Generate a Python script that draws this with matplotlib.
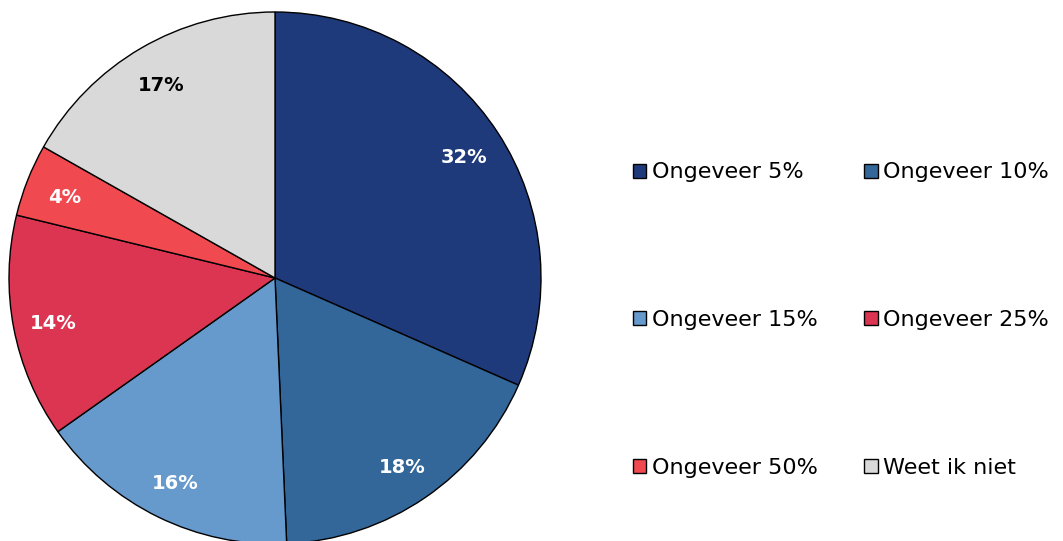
import matplotlib.pyplot as plt
from matplotlib.patches import Patch
import numpy as np

# 数据
labels = ["Ongeveer 5%", "Ongeveer 10%", "Ongeveer 15%", "Ongeveer 25%", "Ongeveer 50%", "Weet ik niet"]
values = [31.6, 17.7, 15.9, 13.6, 4.4, 16.8]
pct_text = ["32%", "18%", "16%", "14%", "4%", "17%"]
colors = ["#1F3A7B", "#336699", "#6699CC", "#DC3551", "#F04A50", "#D9D9D9"]
text_colors = ["white", "white", "white", "white", "white", "black"]

plt.rcParams['font.family'] = ['DejaVu Sans']

W, H = 1063, 541
fig = plt.figure(figsize=(W / 100, H / 100), dpi=100)

cx, cy, r = 275, 263, 266
ax = fig.add_axes([(cx - r) / W, (cy - r) / H, 2 * r / W, 2 * r / H])

wedges, _ = ax.pie(values, colors=colors, startangle=90, counterclock=False,
                   wedgeprops=dict(edgecolor="black", linewidth=1))
ax.set_xlim(-1, 1)
ax.set_ylim(-1, 1)
ax.set_aspect("equal")
ax.axis("off")

# 百分比标签
total = sum(values)
start = 90.0
for v, t, c in zip(values, pct_text, text_colors):
    mid = start - v / total * 360 / 2
    start -= v / total * 360
    a = np.deg2rad(mid)
    ax.text(0.85 * np.cos(a), 0.85 * np.sin(a) - 0.01, t, ha="center", va="center",
            color=c, fontsize=14, fontweight="bold")

# 图例 (逐行排列)
order = [0, 2, 4, 1, 3, 5]
handles = [Patch(facecolor=colors[i], edgecolor="black", linewidth=1) for i in order]
fig.legend(handles, [labels[i] for i in order], ncol=2, loc="center left",
           bbox_to_anchor=(613 / W, 0.408), frameon=False, fontsize=16,
           handlelength=0.6, handleheight=0.6, handletextpad=0.25,
           labelspacing=5.75, columnspacing=2.1)

fig.savefig("out.png", dpi=100)
